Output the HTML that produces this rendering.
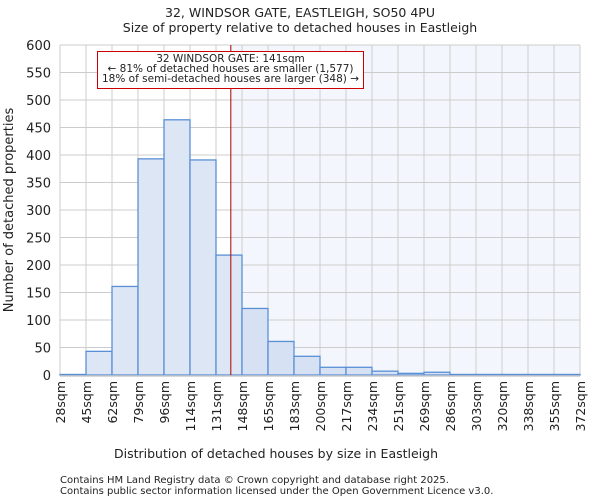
<!DOCTYPE html>
<html><head><meta charset="utf-8"><style>
body{margin:0;background:#fff;font-family:"DejaVu Sans","Liberation Sans",sans-serif}
svg text{font-family:"DejaVu Sans","Liberation Sans",sans-serif;fill:#222}
</style></head><body>
<svg id="c" width="600" height="500">
<text x="300" y="17" font-size="12.5" text-anchor="middle">32, WINDSOR GATE, EASTLEIGH, SO50 4PU</text>
<text x="300" y="32" font-size="12.5" text-anchor="middle">Size of property relative to detached houses in Eastleigh</text>
<g id="plot"></g>
<text x="276" y="458" font-size="12.5" text-anchor="middle">Distribution of detached houses by size in Eastleigh</text>
<text transform="translate(13,210) rotate(-90)" font-size="13" text-anchor="middle">Number of detached properties</text>
<text x="60" y="483" font-size="10">Contains HM Land Registry data © Crown copyright and database right 2025.</text>
<text x="60" y="494" font-size="10">Contains public sector information licensed under the Open Government Licence v3.0.</text>
</svg>
<script>
const categories=["28sqm","45sqm","62sqm","79sqm","96sqm","114sqm","131sqm","148sqm","165sqm","183sqm","200sqm","217sqm","234sqm","251sqm","269sqm","286sqm","303sqm","320sqm","338sqm","355sqm","372sqm"];
const counts=[1,43,161,393,464,391,218,121,61,34,14,14,7,3,5,1,1,1,1,1];
const yTicks=[0,50,100,150,200,250,300,350,400,450,500,550,600];
const marker=141;
const binStart=28, binWidth=17.2;
const NS="http://www.w3.org/2000/svg";
const g=document.getElementById('plot');
const X0=60,X1=580,Y0=375,Y1=45,n=counts.length;
const bw=(X1-X0)/n;
const xs=i=>X0+i*bw;
const ys=v=>Y0-(v/600)*(Y0-Y1);
const xv=v=>X0+(v-binStart)/binWidth*bw;
function el(t,a){const e=document.createElementNS(NS,t);for(const k in a)e.setAttribute(k,a[k]);g.appendChild(e);return e;}
const mx=xv(marker);
let r=el('rect',{x:mx,y:Y1,width:X1-mx,height:Y0-Y1,fill:'#f3f7fd'});


for(const t of yTicks){
 let l=el('line',{x1:X0,x2:X1,y1:ys(t),y2:ys(t),stroke:'#ccc','stroke-width':1});
 
 
 let tx=el('text',{x:X0-9,y:ys(t)+5,'font-size':13,'text-anchor':'end'});tx.textContent=t;
 
 
}
for(let i=0;i<=n;i++){
 let l=el('line',{x1:xs(i),x2:xs(i),y1:Y1,y2:Y0,stroke:'#ccc','stroke-width':1});
 
 
 let tx=el('text',{transform:`translate(${xs(i)+5},381) rotate(-90)`,'font-size':12.5,'text-anchor':'end'});tx.textContent=categories[i];
 
 
}
counts.forEach((v,i)=>{
 let b=el('rect',{x:xs(i),y:ys(v),width:bw,height:Y0-ys(v),fill:xs(i)>=mx?'#d6e1f3':'#dce6f4',stroke:'#5a8fd6','stroke-width':1.3});
 
 
});
let ax=el('line',{x1:X0,x2:X1,y1:Y0+1,y2:Y0+1,stroke:'#ccc','stroke-width':1.5});


let ml=el('line',{x1:mx,x2:mx,y1:Y1,y2:Y0,stroke:'#a00','stroke-width':1});


let box=el('rect',{x:97.5,y:51.5,width:266,height:37,fill:'#fff',stroke:'#c00','stroke-width':1});


["32 WINDSOR GATE: 141sqm","← 81% of detached houses are smaller (1,577)","18% of semi-detached houses are larger (348) →"].forEach((s,i)=>{
 let t=el('text',{x:230.5,y:62+i*10,'font-size':10.5,'text-anchor':'middle'});t.textContent=s;
 
 
});
</script>
</body></html>
